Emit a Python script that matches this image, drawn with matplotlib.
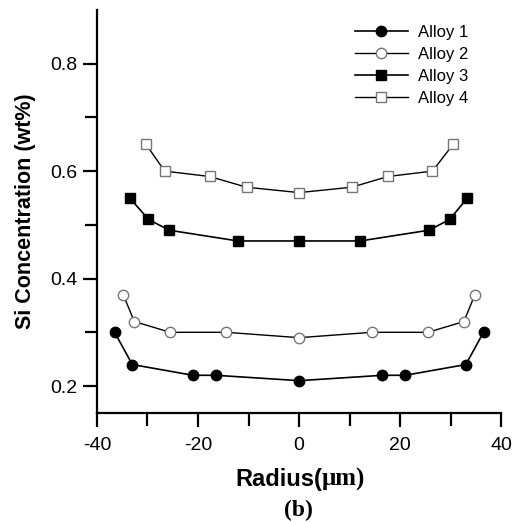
import numpy as np
import matplotlib.pyplot as plt

# Si concentration profiles across the radius for four alloys
r1 = [-36.5, -33, -21, -16.5, 0, 16.5, 21, 33, 36.5]
si1 = [0.30, 0.24, 0.22, 0.22, 0.21, 0.22, 0.22, 0.24, 0.30]

r2 = [-34.8, -32.6, -25.5, -14.4, 0, 14.4, 25.5, 32.6, 34.8]
si2 = [0.37, 0.32, 0.30, 0.30, 0.29, 0.30, 0.30, 0.32, 0.37]

r3 = [-33.5, -29.8, -25.7, -12.1, 0, 12.1, 25.7, 29.8, 33.3]
si3 = [0.55, 0.51, 0.49, 0.47, 0.47, 0.47, 0.49, 0.51, 0.55]

r4 = [-30.3, -26.6, -17.7, -10.4, 0, 10.4, 17.6, 26.4, 30.5]
si4 = [0.65, 0.60, 0.59, 0.57, 0.56, 0.57, 0.59, 0.60, 0.65]

labels = ["Alloy 1", "Alloy 2", "Alloy 3", "Alloy 4"]

plt.rcParams['font.family'] = ['Liberation Sans', 'DejaVu Sans']

fig = plt.figure(figsize=(5.13, 5.22), dpi=100)
ax = fig.add_axes([0.189, 0.209, 0.788, 0.772])

gray = '#777777'
ax.plot(r1, si1, '-', color='black', lw=1.2, marker='o', ms=7.5,
        mfc='black', mec='black', label=labels[0])
ax.plot(r2, si2, '-', color='black', lw=1.0, marker='o', ms=7.5,
        mfc='white', mec=gray, mew=1.0, label=labels[1])
ax.plot(r3, si3, '-', color='black', lw=1.2, marker='s', ms=7.5,
        mfc='black', mec='black', label=labels[2])
ax.plot(r4, si4, '-', color='black', lw=1.0, marker='s', ms=7.8,
        mfc='white', mec=gray, mew=1.0, label=labels[3])

ax.set_xlim(-40, 40)
ax.set_ylim(0.15, 0.9)
ax.set_xticks([-40, -20, 0, 20, 40])
ax.set_xticks([-30, -10, 10, 30], minor=True)
ax.set_yticks([0.2, 0.4, 0.6, 0.8])
ax.set_yticks([0.3, 0.5, 0.7], minor=True)
ax.set_xticklabels(['-40', '-20', '0', '20', '40'])

for side in ['top', 'right']:
    ax.spines[side].set_visible(False)
for side in ['left', 'bottom']:
    ax.spines[side].set_linewidth(1.6)

ax.tick_params(which='both', direction='out', length=10, width=1.6,
               labelsize=14)
ax.tick_params(axis='y', which='both', pad=4)
ax.tick_params(axis='x', which='both', pad=7)
ax.tick_params(which='minor', length=9)

ax.set_ylabel("Si Concentration (wt%)", fontsize=15.5, fontweight='bold',
              labelpad=10)
# x label: sans "Radius(" followed by serif "μm)"
fig.text(0.628, 0.069, "Radius(", fontsize=17, fontweight='bold',
         ha='right', va='baseline')
fig.text(0.628, 0.069, "\u03bcm)", fontsize=18, fontweight='bold',
         family='Liberation Serif', ha='left', va='baseline')
fig.text(0.581, 0.022, "(b)", fontsize=17, fontweight='bold',
         family='Liberation Serif', ha='center', va='center')

ax.legend(loc='upper left', bbox_to_anchor=(0.6, 1.0), frameon=False,
          fontsize=12, handlelength=3.2, handletextpad=0.6,
          labelspacing=0.42)

fig.savefig("out.png", dpi=100)
